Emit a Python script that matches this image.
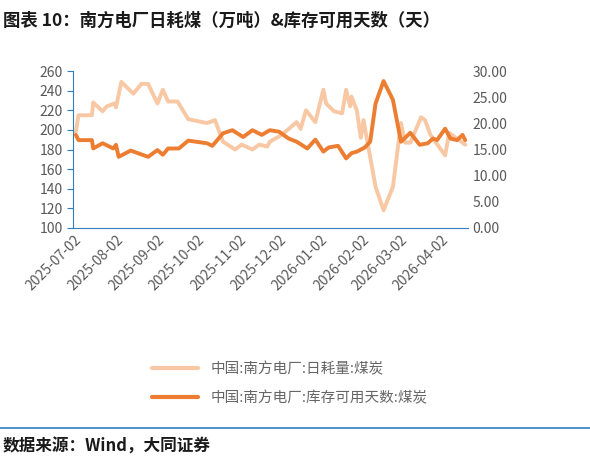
import numpy as np, pandas as pd, seaborn as sns
import matplotlib
matplotlib.use("Agg")
import matplotlib.pyplot as plt
import matplotlib.dates as mdates

sns.set_style("white")
plt.rcParams['font.family'] = ['Noto Sans CJK SC', 'DejaVu Sans']

start = pd.Timestamp("2025-07-02")
coal_days = [1,3,13,14,21,24,30,31,35,44,50,55,62,66,70,77,85,99,105,111,120,125,133,138,144,146,155,166,169,173,180,186,188,194,200,203,206,207,211,214,216,225,231,238,244,247,251,259,262,266,277,280,292]
coal_vals = [198,215,215,228,219,224,227,223,249,237,247,247,227,241,229,229,211,207,210,188,180,185,180,185,183,188,195,208,201,220,208,241,227,219,217,241,224,234,220,192,210,142,118,142,207,187,187,213,210,195,174,197,185]
inv_days = [1,3,13,14,21,29,31,33,42,55,62,66,70,78,85,99,103,111,118,126,133,140,146,153,160,166,174,180,186,190,197,203,207,211,217,221,225,231,238,244,251,258,264,268,271,277,281,286,290,292]
inv_vals = [17.8,16.8,16.8,15.2,16.2,15.2,15.9,13.6,14.8,13.6,14.9,14.0,15.2,15.2,16.7,16.2,15.7,18.1,18.7,17.4,18.7,17.8,18.7,18.4,17.1,16.5,15.2,16.9,14.6,15.4,15.7,13.3,14.3,14.6,15.4,16.5,23.8,28.1,24.5,16.5,18.2,15.9,16.2,17.1,16.8,19.0,17.1,16.8,17.8,16.8]
month_ticks = ["2025-07-02","2025-08-02","2025-09-02","2025-10-02","2025-11-02","2025-12-02",
               "2026-01-02","2026-02-02","2026-03-02","2026-04-02"]
label_coal = "中国:南方电厂:日耗量:煤炭"
label_inv = "中国:南方电厂:库存可用天数:煤炭"

df1 = pd.DataFrame({"date": start + pd.to_timedelta(coal_days, unit="D"), "v": coal_vals})
df2 = pd.DataFrame({"date": start + pd.to_timedelta(inv_days, unit="D"), "v": inv_vals})

fig = plt.figure(figsize=(5.9, 4.68), dpi=100)
ax = fig.add_axes([0.124, 0.513, 0.669, 0.335])
ax2 = ax.twinx()
c1, c2 = "#F8C8A4", "#ED7D31"
sns.lineplot(data=df1, x="date", y="v", ax=ax, color=c1, lw=2.8)
sns.lineplot(data=df2, x="date", y="v", ax=ax2, color=c2, lw=2.8)
ax.set_ylim(100, 260); ax.set_yticks(range(100, 261, 20))
ax2.set_ylim(0, 30); ax2.set_yticks(range(0, 31, 5))
ax2.set_yticklabels([f"{v:.2f}" for v in range(0, 31, 5)])
ax.set_xlim(pd.Timestamp("2025-07-01"), pd.Timestamp("2026-04-22"))
ax.set_xticks(pd.to_datetime(month_ticks))
ax.set_xticklabels(month_ticks, rotation=45, ha="right", rotation_mode="anchor")
for a in (ax, ax2):
    a.set_xlabel(""); a.set_ylabel("")
    for s in a.spines.values(): s.set_visible(False)
    a.tick_params(labelsize=10, colors="#595959", length=0)
blue = "#2F7FC1"
ax.spines["left"].set_visible(True); ax.spines["left"].set_color(blue)
ax.spines["bottom"].set_visible(True); ax.spines["bottom"].set_color(blue)
ax.tick_params(axis="both", length=4, color=blue, direction="in")
ax.tick_params(axis="y", direction="out")

from matplotlib.lines import Line2D
fig.legend([Line2D([], [], color=c1, lw=3), Line2D([], [], color=c2, lw=3)],
           [label_coal, label_inv], loc="upper left", bbox_to_anchor=(0.235, 0.255),
           frameon=False, fontsize=10.5, labelspacing=1.0, handlelength=3.2,
           labelcolor="#666666")
fig.text(0.005, 0.975, "图表 10：南方电厂日耗煤（万吨）&库存可用天数（天）", fontsize=12.5,
         fontweight="bold", va="top", color="#1a1a1a")
fig.add_artist(Line2D([0, 1], [0.085, 0.085], color=blue, lw=1.2))
fig.text(0.005, 0.045, "数据来源：Wind，大同证券", fontsize=12, fontweight="bold",
         va="center", color="#1a1a1a")
fig.savefig("out.png", dpi=100)
